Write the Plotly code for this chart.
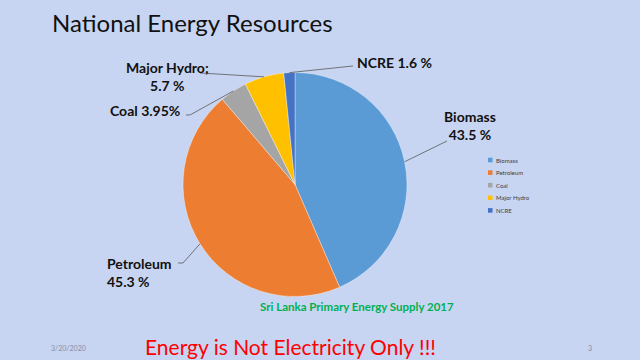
import math
import plotly.graph_objects as go

# ---- data ----
labels = ["Biomass", "Petroleum", "Coal", "Major Hydro", "NCRE"]
values = [43.5, 45.3, 3.95, 5.7, 1.6]
colors = ["#5B9BD5", "#ED7D31", "#A5A5A5", "#FFC000", "#4472C4"]
label_texts = ["Biomass<br>43.5 %", "Petroleum<br>45.3 %", "Coal 3.95%",
               "Major Hydro;<br>5.7 %", "NCRE 1.6 %"]

W, H = 640, 360
def px(x): return x / W
def py(y): return 1 - y / H

# pie geometry (pixels)
cx, cy, R = 295, 184.5, 112

fig = go.Figure(go.Pie(
    labels=labels, values=values, sort=False, direction="clockwise", rotation=0,
    marker=dict(colors=colors, line=dict(color="rgba(255,255,255,0.6)", width=0.6)),
    textinfo="none", hoverinfo="label+value", showlegend=False,
    domain=dict(x=[px(cx - R), px(cx + R)], y=[py(cy + R), py(cy - R)]),
))

# label layout: (text x, text y, align, xanchor, leader end points)
label_layout = [
    dict(x=470, y=125, align="center", xanchor="center", pts=[(447, 141)]),
    dict(x=105, y=272, align="left", xanchor="left", pts=[(183, 263), (178, 263)]),
    dict(x=108, y=110, align="left", xanchor="left", pts=[(190, 115), (186, 115)]),
    dict(x=167, y=76, align="center", xanchor="center", pts=[(200, 73)]),
    dict(x=355, y=62, align="left", xanchor="left", pts=[(353, 66)]),
]

shapes = []
annotations = []
total = sum(values)
cum = 0
for i, v in enumerate(values):
    mid = (cum + v / 2) / total * 2 * math.pi
    cum += v
    sx = cx + R * math.sin(mid)
    sy = cy - R * math.cos(mid)
    lay = label_layout[i]
    pts = [(sx, sy)] + lay["pts"]
    path = "M " + " L ".join(f"{px(a):.5f},{py(b):.5f}" for a, b in pts)
    shapes.append(dict(type="path", path=path, xref="paper", yref="paper",
                       line=dict(color="#595959", width=0.8)))
    annotations.append(dict(x=px(lay["x"]), y=py(lay["y"]), xref="paper", yref="paper",
                            text=f"<b>{label_texts[i]}</b>", showarrow=False,
                            align=lay["align"], xanchor=lay["xanchor"], yanchor="middle",
                            font=dict(family="Lato, Open Sans, sans-serif", size=14, color="#111111")))

# manual compact legend
leg_x, leg_y0, leg_dy = 488, 160, 12.6
for i, lab in enumerate(labels):
    yy = leg_y0 + i * leg_dy
    shapes.append(dict(type="rect", xref="paper", yref="paper",
                       x0=px(leg_x), x1=px(leg_x + 4.5), y0=py(yy + 2.3), y1=py(yy - 2.3),
                       fillcolor=colors[i], line=dict(width=0)))
    annotations.append(dict(x=px(leg_x + 6), y=py(yy), xref="paper", yref="paper",
                            text=lab, showarrow=False, xanchor="left", yanchor="middle",
                            font=dict(family="Lato, sans-serif", size=6, color="#404040")))

# titles and slide text
annotations += [
    dict(x=px(50), y=py(22), xref="paper", yref="paper", text="National Energy Resources",
         showarrow=False, xanchor="left", yanchor="middle",
         font=dict(family="Lato, sans-serif", size=24, color="#111111")),
    dict(x=px(357), y=py(306), xref="paper", yref="paper",
         text="<b>Sri Lanka Primary Energy Supply 2017</b>", showarrow=False,
         xanchor="center", yanchor="middle",
         font=dict(family="Lato, sans-serif", size=11.5, color="#00B050")),
    dict(x=px(290), y=py(346), xref="paper", yref="paper",
         text="Energy is Not Electricity Only !!!", showarrow=False,
         xanchor="center", yanchor="middle",
         font=dict(family="Lato, sans-serif", size=21, color="#FF0000")),
    dict(x=px(49), y=py(348), xref="paper", yref="paper", text="3/20/2020",
         showarrow=False, xanchor="left", yanchor="middle",
         font=dict(family="Lato, sans-serif", size=7, color="#8C8C9C")),
    dict(x=px(590), y=py(348), xref="paper", yref="paper", text="3",
         showarrow=False, xanchor="center", yanchor="middle",
         font=dict(family="Lato, sans-serif", size=7, color="#8C8C9C")),
]

fig.update_layout(
    width=W, height=H, margin=dict(l=0, r=0, t=0, b=0),
    paper_bgcolor="#C7D5F2", plot_bgcolor="#C7D5F2",
    shapes=shapes, annotations=annotations, showlegend=False,
)
fig.write_html("out.html", config={"displayModeBar": False},
               post_script="document.body.style.margin='0';")
